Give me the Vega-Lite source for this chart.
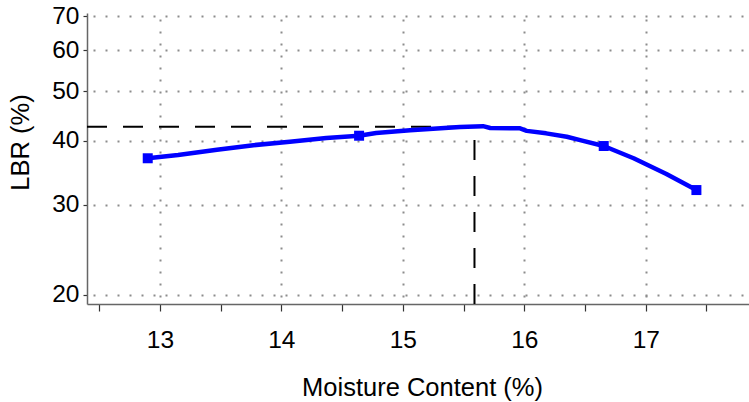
{
  "$schema": "https://vega.github.io/schema/vega-lite/v6.json",
  "width": 662,
  "height": 291,
  "autosize": {"type": "none"},
  "padding": {"left": 87, "top": 13, "right": 0, "bottom": 98},
  "background": "white",
  "config": {
    "view": {"stroke": null},
    "font": "Liberation Sans",
    "axis": {
      "labelFont": "Liberation Sans",
      "titleFont": "Liberation Sans",
      "labelColor": "black",
      "titleColor": "black",
      "titleFontWeight": "normal",
      "labelFontSize": 24.5,
      "titleFontSize": 25.5,
      "domainColor": "#666666",
      "domainWidth": 1.5,
      "tickColor": "#333333",
      "tickWidth": 1.2,
      "gridColor": "#8c8c8c",
      "gridWidth": 2,
      "gridDash": [2, 10],
      "gridDashOffset": 6
    }
  },
  "datasets": {
    "curve": [
      {"mc": 12.90, "lbr": 36.96},
      {"mc": 13.15, "lbr": 37.5},
      {"mc": 13.47, "lbr": 38.4},
      {"mc": 13.77, "lbr": 39.2},
      {"mc": 14.07, "lbr": 39.8},
      {"mc": 14.37, "lbr": 40.5},
      {"mc": 14.64, "lbr": 40.9},
      {"mc": 14.78, "lbr": 41.4},
      {"mc": 15.06, "lbr": 41.9},
      {"mc": 15.25, "lbr": 42.2},
      {"mc": 15.47, "lbr": 42.55},
      {"mc": 15.66, "lbr": 42.7},
      {"mc": 15.72, "lbr": 42.35},
      {"mc": 15.96, "lbr": 42.3},
      {"mc": 16.02, "lbr": 41.8},
      {"mc": 16.18, "lbr": 41.34},
      {"mc": 16.35, "lbr": 40.72},
      {"mc": 16.46, "lbr": 40.1},
      {"mc": 16.654, "lbr": 39.05},
      {"mc": 16.9, "lbr": 36.96},
      {"mc": 17.17, "lbr": 34.43},
      {"mc": 17.417, "lbr": 32.04}
    ],
    "measured": [
      {"mc": 12.90, "lbr": 36.96},
      {"mc": 14.64, "lbr": 40.9},
      {"mc": 16.654, "lbr": 39.05},
      {"mc": 17.417, "lbr": 32.04}
    ],
    "optimum": [
      {"mc": 12.4, "lbr": 42.6, "mc2": 15.59, "lbr2": 42.6},
      {"mc": 15.59, "lbr": 19.2, "mc2": 15.59, "lbr2": 42.6}
    ]
  },
  "encoding": {
    "x": {
      "field": "mc",
      "type": "quantitative",
      "scale": {"domain": [12.4, 17.85], "nice": false, "zero": false},
      "axis": {
        "title": "Moisture Content (%)",
        "values": [12.5, 13, 13.5, 14, 14.5, 15, 15.5, 16, 16.5, 17, 17.5],
        "labelExpr": "datum.value % 1 === 0 ? format(datum.value, 'd') : ''",
        "tickSize": 7,
        "labelPadding": 17,
        "grid": true,
        "gridOpacity": {"condition": {"test": "datum.value % 1 === 0", "value": 1}, "value": 0},
        "titleBaseline": "alphabetic",
        "titleY": 91,
        "titleX": 335
      }
    },
    "y": {
      "field": "lbr",
      "type": "quantitative",
      "scale": {"type": "log", "domain": [19.2, 71], "nice": false, "zero": false},
      "axis": {
        "title": "LBR (%)",
        "values": [20, 30, 40, 50, 60, 70],
        "format": "d",
        "tickSize": 4,
        "labelPadding": 4,
        "grid": true,
        "titleAngle": -90,
        "titleAlign": "center",
        "titleBaseline": "middle",
        "titleX": -67,
        "titleY": 129
      }
    }
  },
  "layer": [
    {
      "data": {"name": "optimum"},
      "mark": {"type": "rule", "color": "black", "strokeWidth": 2, "strokeDash": [20, 16]},
      "encoding": {
        "x2": {"field": "mc2"},
        "y2": {"field": "lbr2"}
      }
    },
    {
      "data": {"name": "curve"},
      "mark": {"type": "line", "color": "#0000ff", "strokeWidth": 4.5, "strokeJoin": "round"}
    },
    {
      "data": {"name": "measured"},
      "mark": {"type": "point", "shape": "square", "filled": true, "color": "#0000ff", "opacity": 1, "size": 100}
    }
  ]
}
